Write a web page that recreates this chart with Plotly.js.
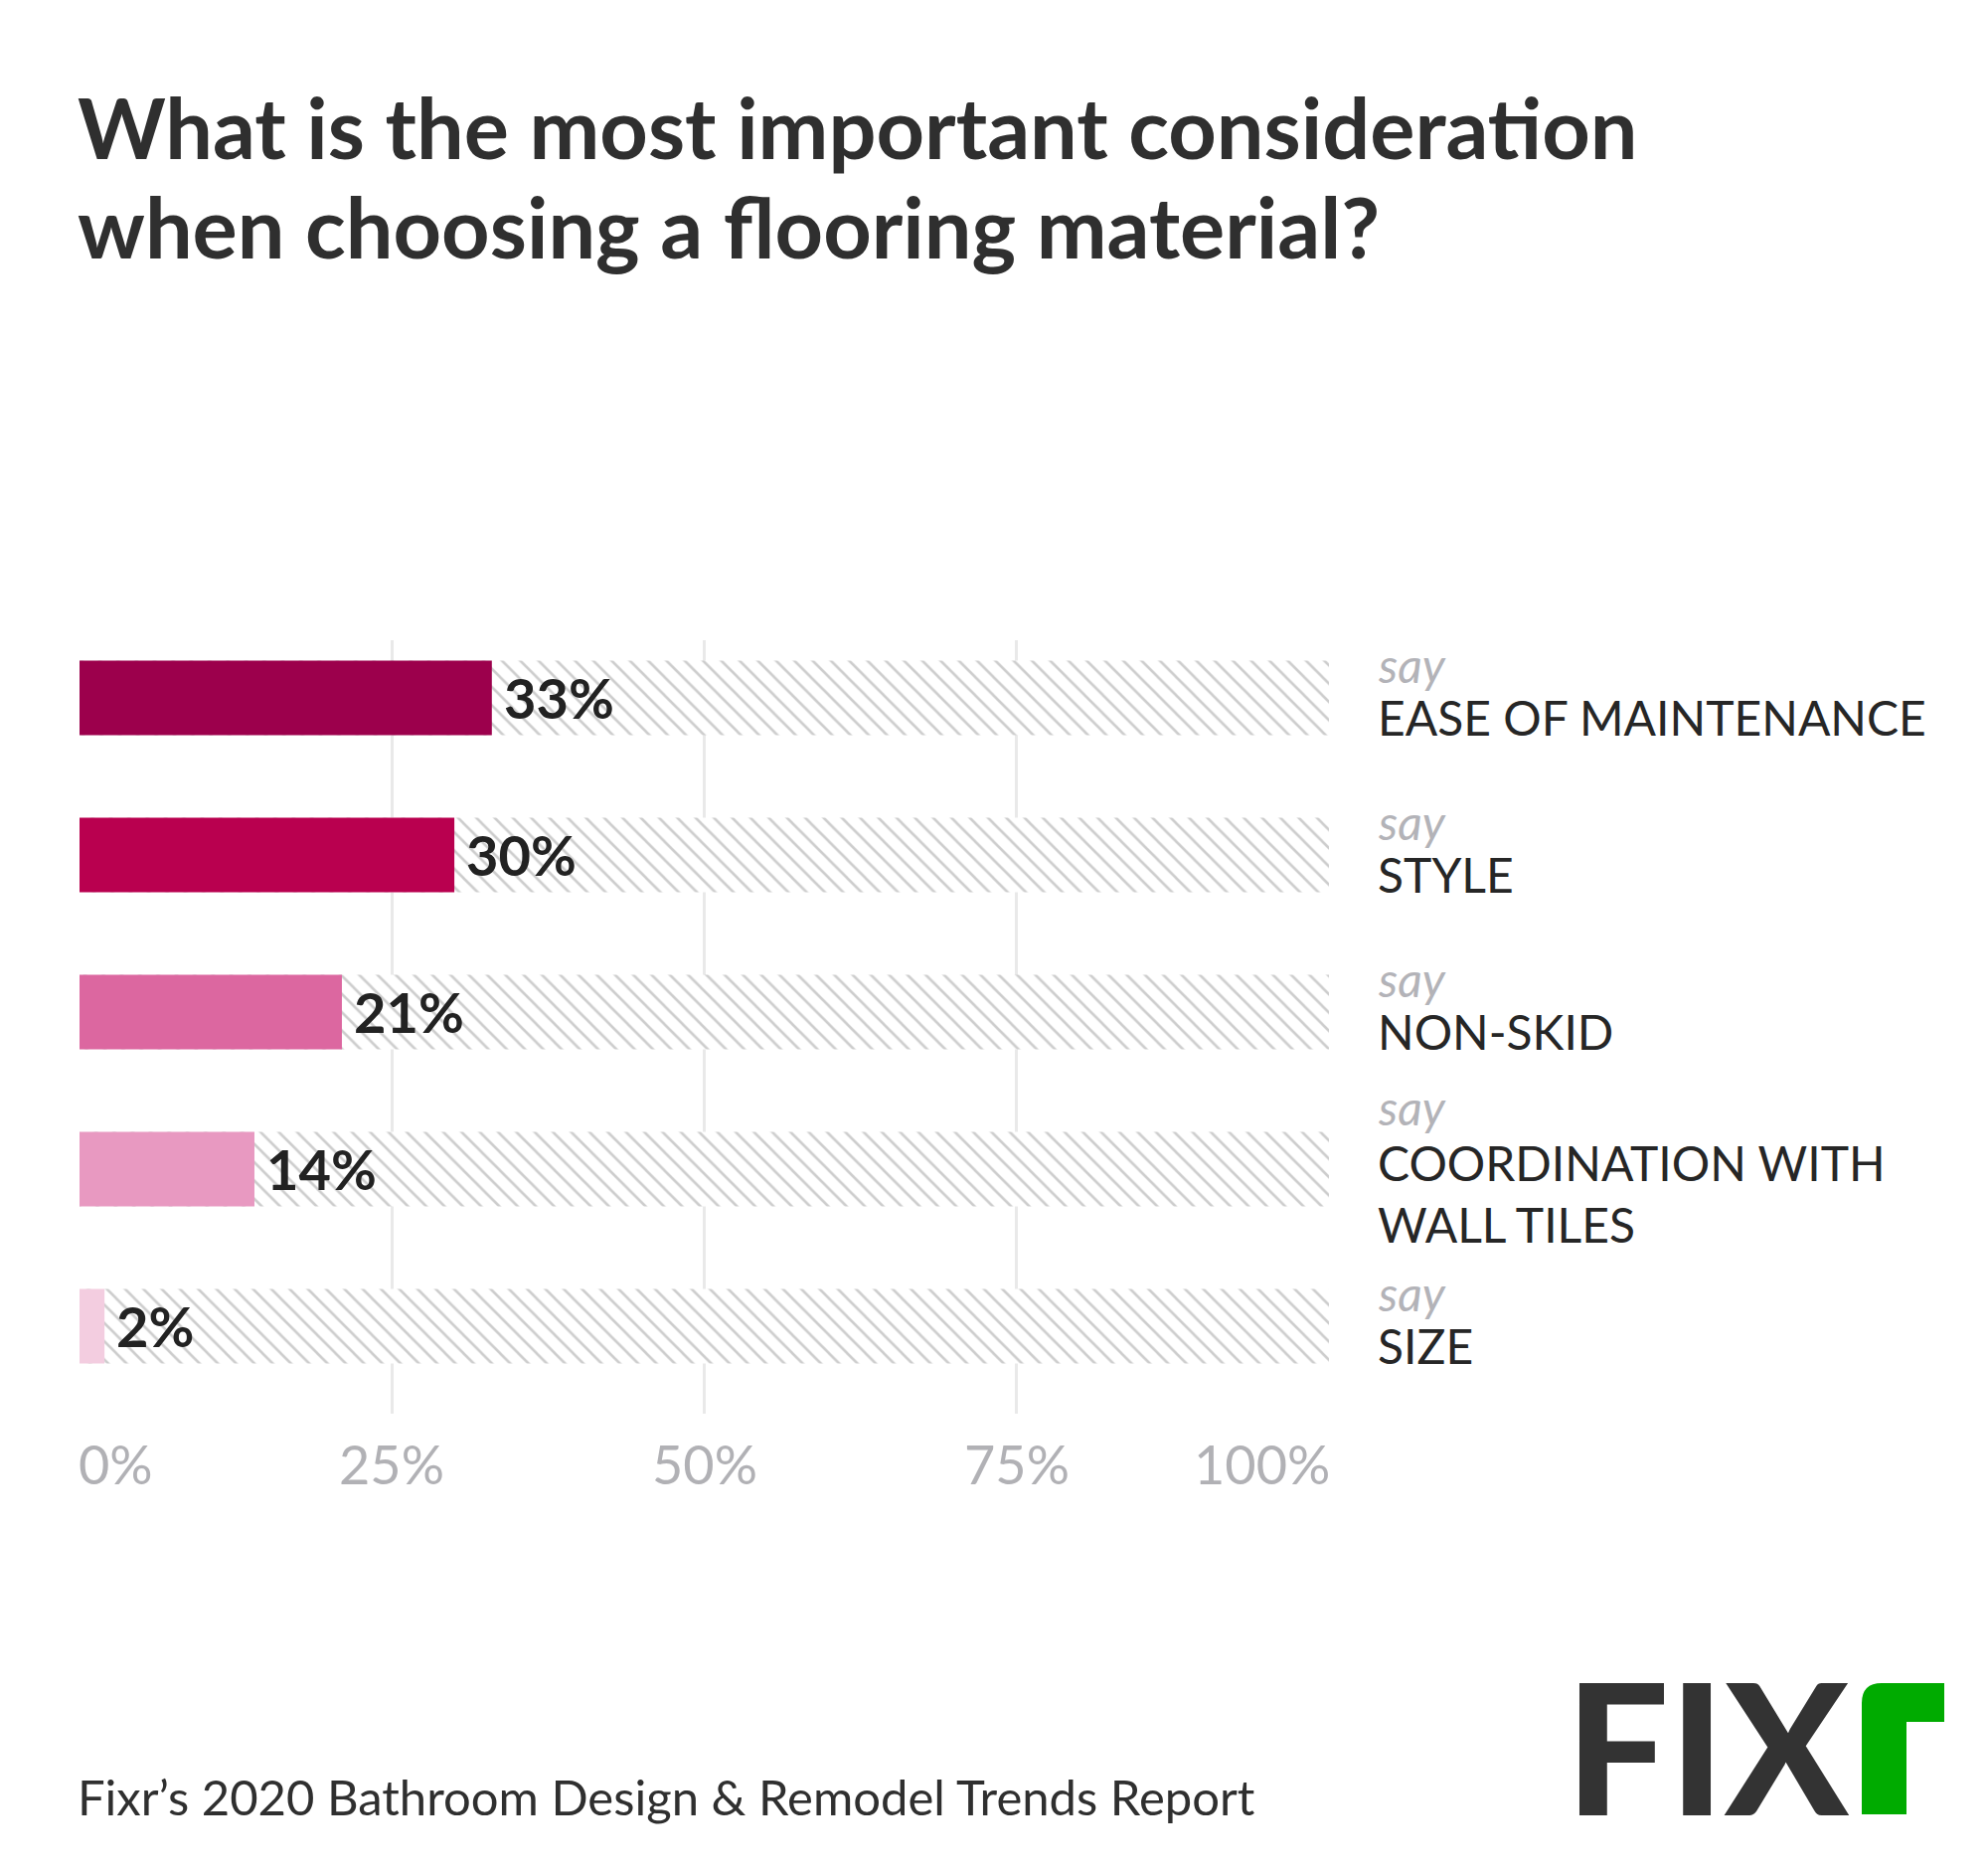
<!DOCTYPE html>
<html>
<head>
<meta charset="utf-8">
<script src="https://cdn.plot.ly/plotly-3.0.1.min.js"></script>
<style>
  html, body { margin: 0; padding: 0; background: #ffffff; }
  #chart { width: 2000px; height: 1883px; }
</style>
</head>
<body>
<div id="chart"></div>
<script>
// ---------- DATA ----------
const categories = ['EASE OF MAINTENANCE', 'STYLE', 'NON-SKID', 'COORDINATION WITH<br>WALL TILES', 'SIZE'];
const values = [33, 30, 21, 14, 2];
const fullValues = [100, 100, 100, 100, 100];
const tickVals = [0, 25, 50, 75, 100];
const tickLabels = ['0%', '25%', '50%', '75%', '100%'];
const titleLines = ['What is the most important consideration', 'when choosing a flooring material?'];
const sourceText = 'Fixr\u2019s 2020 Bathroom Design &amp; Remodel Trends Report';
const prefixWord = 'say';

// ---------- STYLE ----------
const barColors = ['#9c004c', '#b9004f', '#dc67a0', '#e899c1', '#f3cde0'];
const W = 2000, H = 1883;
const L = 80, R = 1337, T = 644, B = 1422;
const px2x = p => (p - L) / (R - L);
const py2y = p => (B - p) / (B - T);
const FONT = 'Lato, "Open Sans", sans-serif';

const traces = [
  {
    type: 'bar', orientation: 'h', y: categories, x: fullValues,
    width: 0.475,
    marker: {
      color: '#ffffff',
      line: { width: 0 },
      pattern: { shape: '\\', fgcolor: '#cdcdcd', bgcolor: '#ffffff', size: 13, solidity: 0.2 }
    },
    hoverinfo: 'skip', showlegend: false
  },
  {
    type: 'bar', orientation: 'h', y: categories, x: values,
    width: 0.475,
    marker: { color: barColors, line: { width: 0 } },
    hoverinfo: 'skip', showlegend: false
  }
];

const annotations = [];

// title
titleLines.forEach((t, i) => {
  annotations.push({
    xref: 'paper', yref: 'paper', x: px2x(80), y: py2y(i === 0 ? 127 : 227),
    xanchor: 'left', yanchor: 'middle', xshift: -4, showarrow: false,
    text: t, font: { family: FONT, size: 84.6, color: '#2f2f2f', weight: 700 }
  });
});

// value labels
values.forEach((v, i) => {
  annotations.push({
    xref: 'x', yref: 'y', x: v, y: categories[i],
    xanchor: 'left', yanchor: 'middle', xshift: 10, yshift: 0, showarrow: false,
    text: v + '%',
    font: { family: FONT, size: 56, color: '#222222', weight: 700 }
  });
});

// right-side labels
categories.forEach((c, i) => {
  const n = c.split('<br>').length;
  annotations.push({
    xref: 'paper', yref: 'y', x: px2x(1384), y: c,
    xanchor: 'left', yanchor: 'middle', showarrow: false,
    yshift: 33 + 29 * (n - 1),
    text: '<i>' + prefixWord + '</i>',
    font: { family: FONT, size: 48, color: '#b3b3b8' }
  });
  annotations.push({
    xref: 'paper', yref: 'y', x: px2x(1384), y: c,
    xanchor: 'left', yanchor: 'middle', showarrow: false, align: 'left',
    yshift: -(20 + 5 * (n - 1)),
    text: c,
    font: { family: FONT, size: 48, color: '#262626' }
  });
});

// x tick labels
tickVals.forEach((v, i) => {
  annotations.push({
    xref: 'x', yref: 'paper', x: v, y: py2y(1472),
    xanchor: i === 0 ? 'left' : (i === tickVals.length - 1 ? 'right' : 'center'),
    xshift: i === 0 ? -3 : (i === tickVals.length - 1 ? 3 : 0),
    yanchor: 'middle', showarrow: false,
    text: tickLabels[i],
    font: { family: FONT, size: 54, color: '#b1b1b5' }
  });
});

// source
annotations.push({
  xref: 'paper', yref: 'paper', x: px2x(80), y: py2y(1807),
  xanchor: 'left', yanchor: 'middle', xshift: -4, showarrow: false,
  text: sourceText, font: { family: FONT, size: 49, color: '#2f2f2f' }
});

// logo text
annotations.push({
  xref: 'paper', yref: 'paper', x: px2x(1573), y: py2y(1754),
  xanchor: 'left', yanchor: 'middle', showarrow: false,
  text: 'FIX', font: { family: FONT, size: 184, color: '#333333', weight: 900 }
});

// logo green r (decoration)
const rp = [[1873,1825],[1873,1713],[1893,1693],[1956,1693],[1956,1732],[1918,1732],[1918,1825]];
let d = 'M' + px2x(rp[0][0]) + ',' + py2y(rp[0][1]);
d += ' L' + px2x(rp[1][0]) + ',' + py2y(rp[1][1]);
d += ' Q' + px2x(1873) + ',' + py2y(1693) + ' ' + px2x(rp[2][0]) + ',' + py2y(rp[2][1]);
for (let k = 3; k < rp.length; k++) d += ' L' + px2x(rp[k][0]) + ',' + py2y(rp[k][1]);
d += ' Z';

const layout = {
  width: W, height: H,
  margin: { l: L, r: W - R, t: T, b: H - B, pad: 0 },
  paper_bgcolor: '#ffffff', plot_bgcolor: '#ffffff',
  barmode: 'overlay',
  showlegend: false,
  xaxis: {
    range: [0, 100], tickvals: [25, 50, 75], showticklabels: false,
    showgrid: true, gridcolor: '#e9e9e9', gridwidth: 3,
    zeroline: false, showline: false, ticks: '', fixedrange: true
  },
  yaxis: {
    type: 'category', categoryorder: 'array', categoryarray: categories,
    range: [4.557, -0.367], showticklabels: false, showgrid: false,
    zeroline: false, showline: false, ticks: '', fixedrange: true
  },
  annotations: annotations,
  shapes: [{
    type: 'path', xref: 'paper', yref: 'paper', path: d,
    fillcolor: '#00ab00', line: { width: 0 }, layer: 'above'
  }]
};

Plotly.newPlot('chart', traces, layout, { staticPlot: true, displayModeBar: false });
</script>
</body>
</html>
